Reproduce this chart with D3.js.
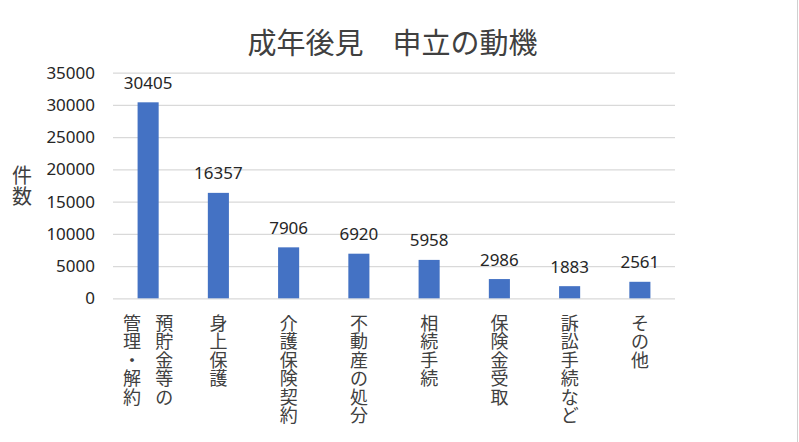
<!DOCTYPE html>
<html><head><meta charset="utf-8">
<script src="https://cdn.jsdelivr.net/npm/d3@7/dist/d3.min.js"></script>
<style>
html,body{margin:0;padding:0;background:#fff;}
svg{display:block;}
</style>
</head><body>
<svg id="chart" width="799" height="442"></svg>
<script>
const title = "成年後見　申立の動機";
const yAxisTitle = "件数";
const categories = ["預貯金等の\n管理・解約", "身上保護", "介護保険契約", "不動産の処分", "相続手続", "保険金受取", "訴訟手続など", "その他"];
const values = [30405, 16357, 7906, 6920, 5958, 2986, 1883, 2561];
const yTicks = [0, 5000, 10000, 15000, 20000, 25000, 30000, 35000];

const svg = d3.select("#chart");
const W = 799, H = 442;
const plot = {left: 113, right: 675, top: 72.7, bottom: 298.3};
const cjk = "'Noto Sans CJK JP', 'Noto Sans', sans-serif";
const num = "'Noto Sans', 'Open Sans', sans-serif";

svg.append("rect").attr("x", 0).attr("y", 0).attr("width", W).attr("height", H).attr("fill", "#fff");
svg.append("line").attr("x1", W - 1.5).attr("x2", W - 1.5).attr("y1", 0).attr("y2", H)
  .attr("stroke", "#d0d0d0").attr("stroke-width", 1);

const x = d3.scaleBand().domain(categories).range([plot.left, plot.right])
  .paddingInner(0.7).paddingOuter(0.35);
const y = d3.scaleLinear().domain([0, 35000]).range([plot.bottom, plot.top]);

// gridlines
const grid = svg.append("g").attr("transform", `translate(${plot.left},0)`)
  .call(d3.axisLeft(y).tickValues(yTicks).tickSize(-(plot.right - plot.left)).tickFormat(""));
grid.select(".domain").remove();
grid.selectAll("line").attr("stroke", "#d9d9d9").attr("stroke-width", 1.3);

// y axis labels
const yAxis = svg.append("g").attr("transform", `translate(${plot.left},0)`)
  .call(d3.axisLeft(y).tickValues(yTicks).tickSize(0).tickPadding(18).tickFormat(d => String(d)));
yAxis.select(".domain").remove();
yAxis.selectAll("text").attr("font-family", num).attr("font-size", 17).attr("fill", "#262626");

// bars
svg.append("g").selectAll("rect").data(values).join("rect")
  .attr("x", (d, i) => x(categories[i]))
  .attr("y", d => y(d))
  .attr("width", x.bandwidth())
  .attr("height", d => y(0) - y(d))
  .attr("fill", "#4472C4");

// data labels
svg.append("g").selectAll("text").data(values).join("text")
  .attr("x", (d, i) => x(categories[i]) + x.bandwidth() / 2)
  .attr("y", d => y(d) - 13.5)
  .attr("text-anchor", "middle")
  .attr("font-family", num).attr("font-size", 17).attr("fill", "#262626")
  .text(d => d);

// vertical category labels, one character per line (vertical-rl: first line on the right)
const charPitch = 18.4, colGap = 32.4, firstCharCenter = 322;
categories.forEach((c, i) => {
  const cx = x(c) + x.bandwidth() / 2;
  const lines = c.split("\n");
  lines.forEach((ln, li) => {
    const colX = cx + ((lines.length - 1) / 2 - li) * colGap;
    Array.from(ln).forEach((ch, k) => {
      svg.append("text")
        .attr("x", colX).attr("y", firstCharCenter + k * charPitch)
        .attr("text-anchor", "middle").attr("dominant-baseline", "central")
        .attr("font-family", cjk).attr("font-size", 18).attr("fill", "#404040")
        .text(ch);
    });
  });
});

// y axis title (stacked vertically)
Array.from(yAxisTitle).forEach((ch, k) => {
  svg.append("text").attr("x", 22).attr("y", 174 + k * 21.5)
    .attr("text-anchor", "middle").attr("dominant-baseline", "central")
    .attr("font-family", cjk).attr("font-size", 20).attr("fill", "#404040")
    .text(ch);
});

// title
svg.append("text").attr("x", 392.5).attr("y", 41)
  .attr("text-anchor", "middle").attr("dominant-baseline", "central")
  .attr("font-family", cjk).attr("font-size", 29).attr("fill", "#404040")
  .text(title);
</script>
</body></html>
